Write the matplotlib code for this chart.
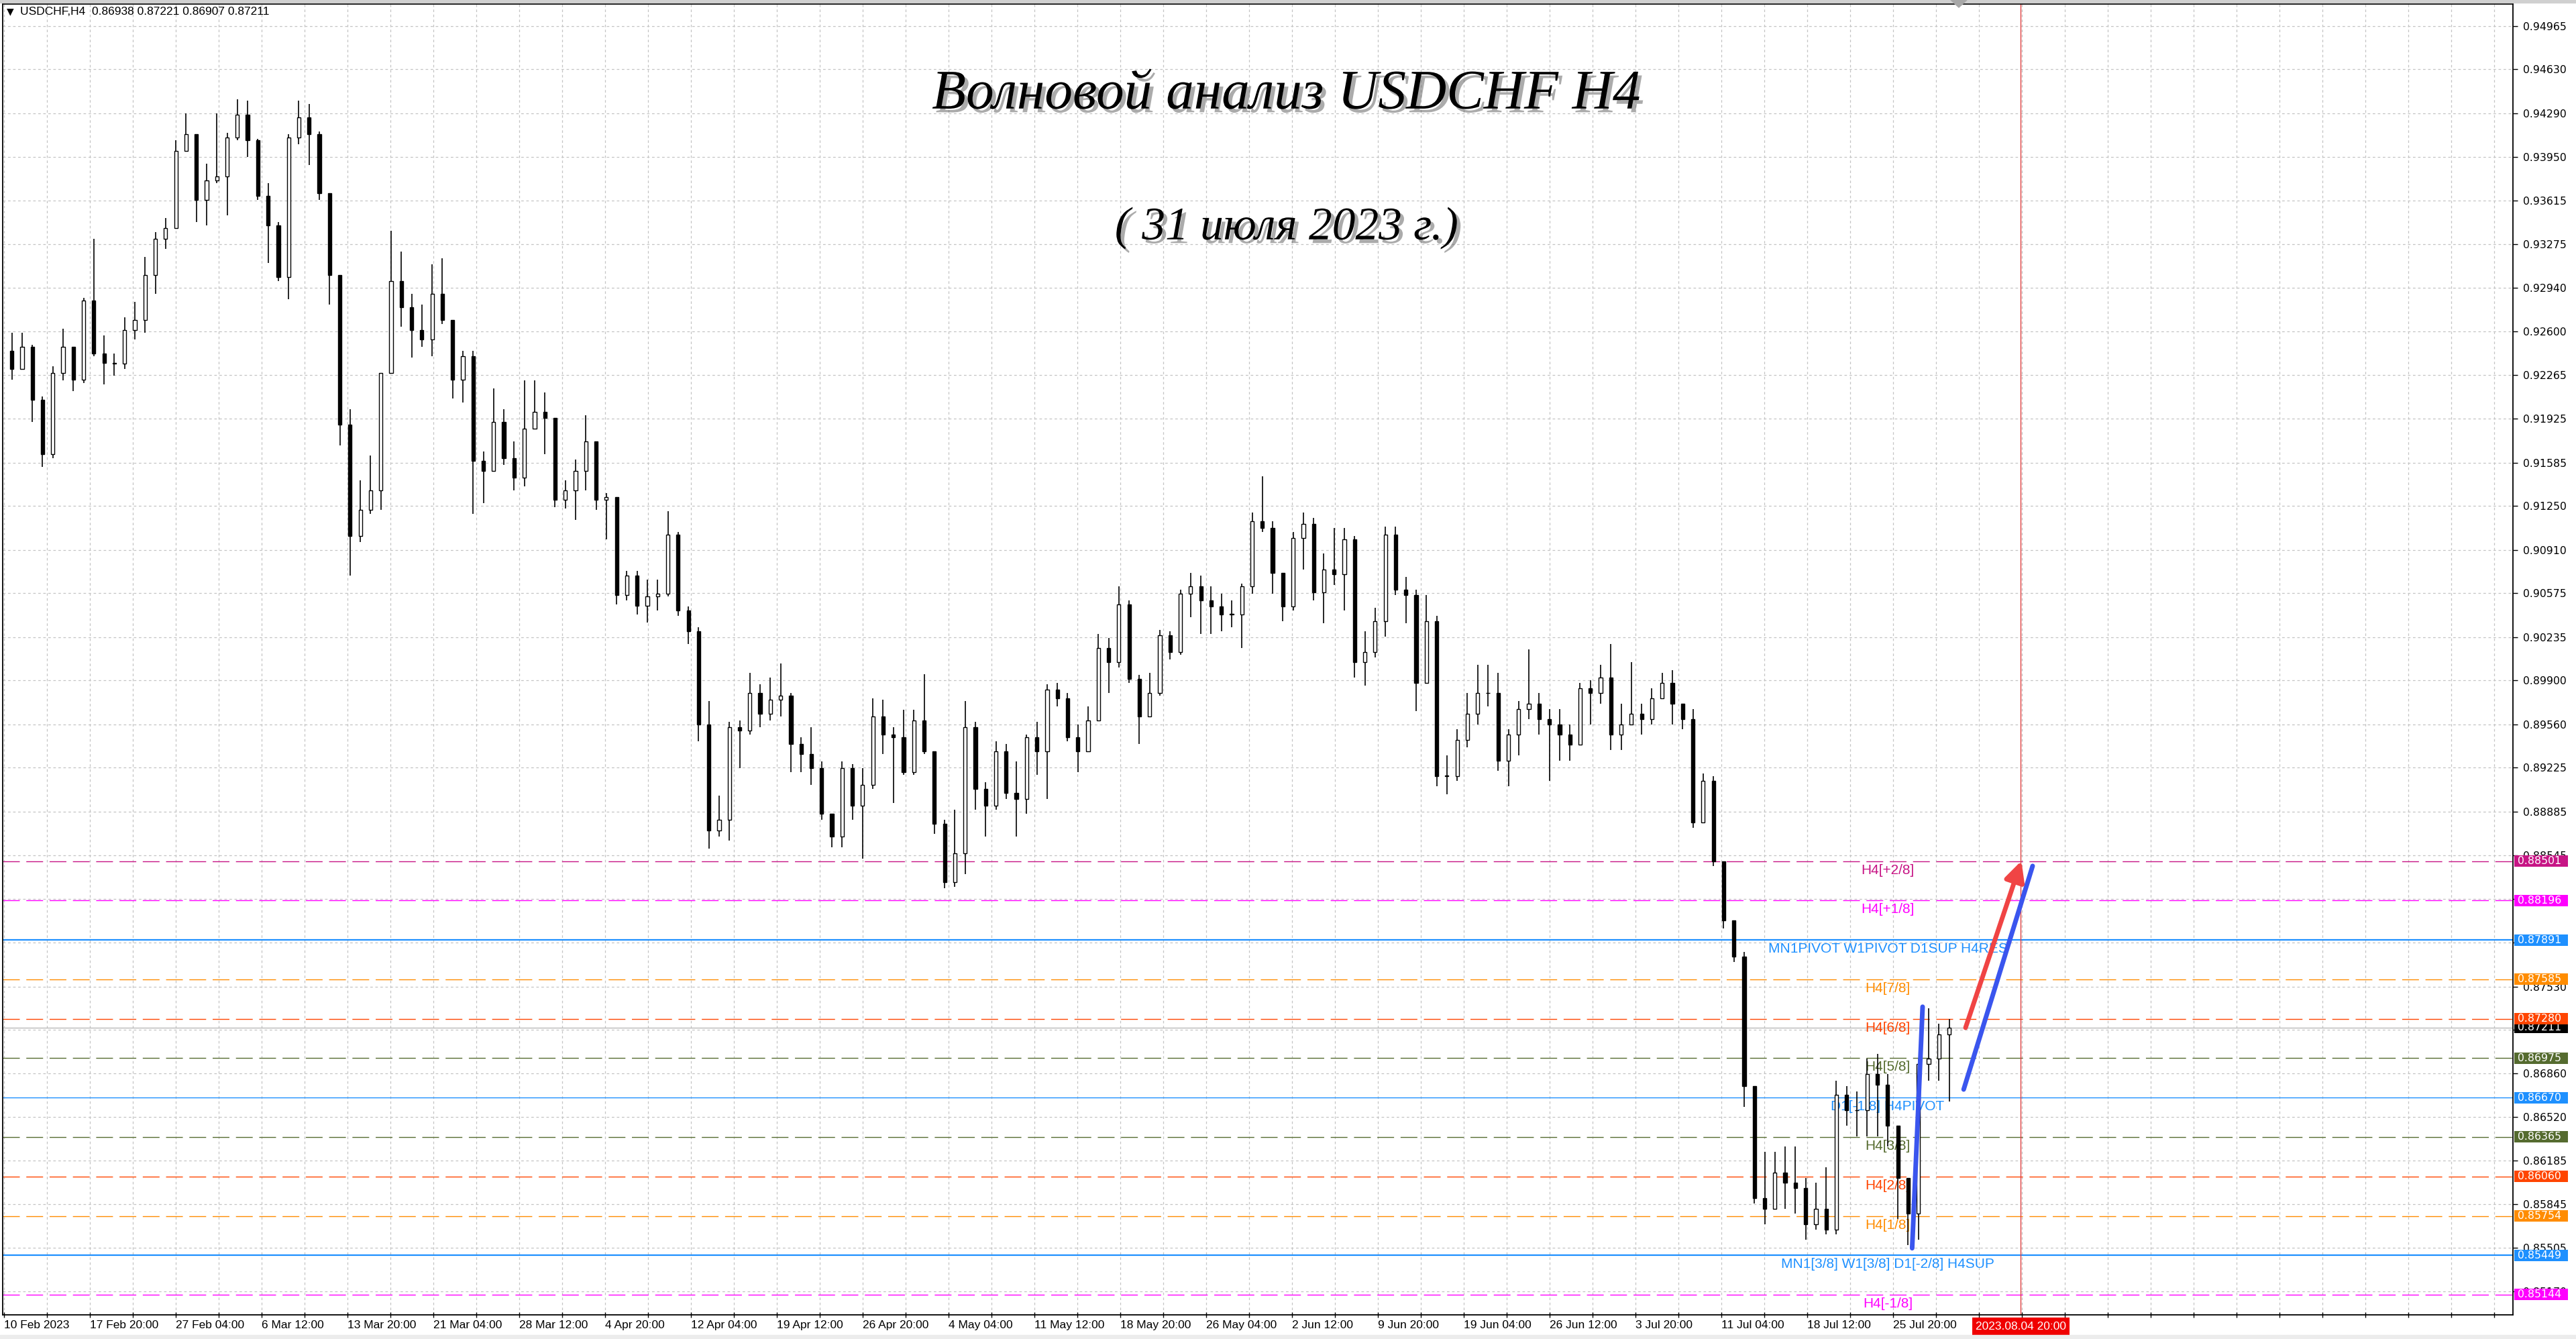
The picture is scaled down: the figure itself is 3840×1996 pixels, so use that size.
import matplotlib
matplotlib.use('Agg')
import matplotlib.pyplot as plt
import matplotlib.patheffects as pe
import matplotlib.transforms as mtransforms
from matplotlib.patches import Rectangle, Polygon
from matplotlib import font_manager

# USDCHF H4, candles (about 4 bars per candle)
first_open = 0.9245
highs = [
    .9259, .9259, .9250, .9210, .9233, .9262, .9248, .9286, .9332, .9257,
    .9243, .9271, .9283, .9318, .9337, .9348, .9408, .9429, .9413, .9390,
    .9429, .9414, .9440, .9439, .9409, .9375, .9345, .9413, .9439, .9436,
    .9415, .9367, .9304, .9200, .9145, .9164, .9228, .9338, .9322, .9289,
    .9281, .9312, .9317, .9269, .9245, .9245, .9167, .9216, .9200, .9175,
    .9222, .9222, .9213, .9193, .9145, .9161, .9195, .9175, .9135, .9132,
    .9075, .9075, .9068, .9068, .9121, .9105, .9047, .9031, .8974, .8901,
    .8958, .8959, .8996, .8987, .8992, .9003, .8980, .8946, .8954, .8927,
    .8887, .8927, .8925, .8922, .8976, .8975, .8954, .8967, .8967, .8995,
    .8935, .8882, .8890, .8974, .8958, .8911, .8943, .8941, .8927, .8948,
    .8958, .8987, .8988, .8980, .8956, .8970, .9026, .9023, .9063, .9052,
    .8994, .8996, .9029, .9028, .9060, .9073, .9071, .9063, .9057, .9052,
    .9065, .9120, .9148, .9113, .9073, .9105, .9120, .9116, .9088, .9108,
    .9108, .9102, .9028, .9046, .9109, .9109, .9070, .9060, .9056, .9040,
    .8932, .8952, .8980, .9002, .9002, .8996, .8952, .8974, .9014, .8980,
    .8968, .8968, .8956, .8988, .8990, .9002, .9018, .8972, .9004, .8972,
    .8984, .8996, .8998, .8972, .8968, .8918, .8916, .8850, .8804, .8780,
    .8676, .8625, .8625, .8629, .8629, .8605, .8601, .8613, .8680, .8676,
    .8672, .8697, .8701, .8685, .8645, .8605, .8697, .8736, .8724, .8728,
]
lows = [
    .9223, .9231, .9190, .9155, .9162, .9222, .9214, .9220, .9241, .9219,
    .9226, .9231, .9254, .9259, .9289, .9324, .9340, .9400, .9345, .9342,
    .9375, .9350, .9408, .9395, .9362, .9313, .9299, .9285, .9405, .9389,
    .9362, .9281, .9172, .9071, .9097, .9119, .9122, .9228, .9264, .9240,
    .9248, .9241, .9266, .9208, .9205, .9119, .9127, .9152, .9157, .9137,
    .9140, .9185, .9165, .9124, .9123, .9114, .9137, .9122, .9099, .9049,
    .9052, .9041, .9035, .9044, .9055, .9040, .9018, .8943, .8860, .8869,
    .8866, .8922, .8948, .8954, .8959, .8962, .8919, .8919, .8909, .8882,
    .8861, .8861, .8882, .8852, .8906, .8933, .8895, .8917, .8917, .8933,
    .8871, .8829, .8830, .8840, .8890, .8869, .8890, .8898, .8869, .8887,
    .8917, .8898, .8970, .8943, .8919, .8935, .8959, .8980, .9000, .8988,
    .8941, .8962, .8978, .9006, .9010, .9039, .9026, .9026, .9028, .9031,
    .9015, .9057, .9105, .9057, .9036, .9044, .9076, .9052, .9034, .9064,
    .9044, .8992, .8986, .9008, .9024, .9056, .9034, .8966, .8988, .8908,
    .8902, .8912, .8938, .8956, .8970, .8920, .8908, .8932, .8960, .8948,
    .8912, .8928, .8928, .8940, .8956, .8972, .8936, .8936, .8956, .8948,
    .8956, .8976, .8956, .8952, .8876, .8880, .8846, .8798, .8772, .8660,
    .8585, .8569, .8581, .8581, .8577, .8557, .8565, .8561, .8561, .8645,
    .8637, .8637, .8637, .8629, .8573, .8553, .8557, .8680, .8680, .8664,
]
closes = [
    .9231, .9248, .9207, .9165, .9228, .9248, .9223, .9284, .9243, .9236,
    .9235, .9261, .9269, .9304, .9332, .9340, .9400, .9413, .9362, .9377,
    .9380, .9410, .9428, .9408, .9365, .9342, .9302, .9410, .9426, .9413,
    .9367, .9304, .9188, .9102, .9122, .9137, .9228, .9299, .9279, .9261,
    .9254, .9289, .9269, .9223, .9241, .9160, .9152, .9190, .9162, .9147,
    .9185, .9198, .9193, .9130, .9137, .9152, .9175, .9130, .9132, .9056,
    .9071, .9048, .9055, .9057, .9103, .9044, .9028, .8956, .8874, .8882,
    .8954, .8951, .8980, .8964, .8975, .8978, .8941, .8933, .8922, .8887,
    .8869, .8922, .8893, .8909, .8962, .8948, .8946, .8919, .8959, .8935,
    .8879, .8834, .8856, .8954, .8906, .8893, .8935, .8903, .8898, .8946,
    .8935, .8983, .8976, .8946, .8935, .8959, .9015, .9004, .9049, .8991,
    .8962, .8980, .9025, .9012, .9057, .9063, .9052, .9047, .9041, .9041,
    .9063, .9113, .9108, .9073, .9047, .9100, .9111, .9058, .9076, .9072,
    .9099, .9004, .9012, .9036, .9103, .9060, .9056, .8988, .9036, .8916,
    .8916, .8944, .8964, .8980, .8980, .8928, .8948, .8968, .8972, .8960,
    .8956, .8948, .8940, .8984, .8980, .8992, .8948, .8956, .8964, .8960,
    .8976, .8988, .8972, .8960, .8880, .8912, .8850, .8804, .8776, .8676,
    .8589, .8581, .8609, .8601, .8597, .8569, .8581, .8565, .8669, .8657,
    .8657, .8685, .8677, .8645, .8605, .8577, .8693, .8697, .8716, .87211,
]

date_labels = ['10 Feb 2023', '17 Feb 20:00', '27 Feb 04:00', '6 Mar 12:00', '13 Mar 20:00',
               '21 Mar 04:00', '28 Mar 12:00', '4 Apr 20:00', '12 Apr 04:00', '19 Apr 12:00',
               '26 Apr 20:00', '4 May 04:00', '11 May 12:00', '18 May 20:00', '26 May 04:00',
               '2 Jun 12:00', '9 Jun 20:00', '19 Jun 04:00', '26 Jun 12:00', '3 Jul 20:00',
               '11 Jul 04:00', '18 Jul 12:00', '25 Jul 20:00']
price_ticks = [0.94965, 0.94630, 0.94290, 0.93950, 0.93615, 0.93275, 0.92940, 0.92600,
               0.92265, 0.91925, 0.91585, 0.91250, 0.90910, 0.90575, 0.90235, 0.89900,
               0.89560, 0.89225, 0.88885, 0.88545, 0.88210, 0.87870, 0.87530, 0.87195,
               0.86860, 0.86520, 0.86185, 0.85845, 0.85505, 0.85170]
# tick labels that sit completely under a coloured price box
hidden_ticks = [0.87870, 0.87195]

level_prices = [0.88501, 0.88196, 0.87891, 0.87585, 0.87280, 0.86975,
                0.86670, 0.86365, 0.86060, 0.85754, 0.85449, 0.85144]
level_names = ['H4[+2/8]', 'H4[+1/8]', 'MN1PIVOT W1PIVOT D1SUP H4RES', 'H4[7/8]', 'H4[6/8]',
               'H4[5/8]', 'D1[-1/8] H4PIVOT', 'H4[3/8]', 'H4[2/8]', 'H4[1/8]',
               'MN1[3/8] W1[3/8] D1[-2/8] H4SUP', 'H4[-1/8]']
level_colors = ['#C71585', '#FF00FF', '#1E90FF', '#FF8C00', '#FF4500', '#556B2F',
                '#1E90FF', '#556B2F', '#FF4500', '#FF8C00', '#1E90FF', '#FF00FF']
level_solid = [False, False, True, False, False, False, True, False, False, False, True, False]

last_price = 0.87211
future_bar = 751.6            # 2023.08.04 20:00
# hand drawn wave marks (bar index, price)
blue_wave1 = ([711.1, 715.0], [0.85504, 0.87373])
blue_wave2 = ([730.3, 756.0], [0.86733, 0.88463])
red_arrow = ([731.0, 751.8], [0.87211, 0.88502])

names = {f.name for f in font_manager.fontManager.ttflist}
narrow = 'Liberation Sans Narrow' if 'Liberation Sans Narrow' in names else 'Liberation Sans'
small = 15 if narrow == 'Liberation Sans Narrow' else 12.5

W, H = 3840, 1996
fig = plt.figure(figsize=(W / 100, H / 100), dpi=100)
fig.patch.set_facecolor('white')
fig.patches.append(Rectangle((0, 1 - 4 / H), 1, 4 / H, transform=fig.transFigure,
                             color='#d0d0d0', zorder=0))
fig.patches.append(Rectangle((0, 0), 1, 6 / H, transform=fig.transFigure,
                             color='#ececec', zorder=0))
# chart shift marker on the top edge
fig.patches.append(Polygon([(2908 / W, 1), (2932 / W, 1), (2920 / W, 1 - 11 / H)],
                           closed=True, transform=fig.transFigure, color='#a8a8a8', zorder=5))

ax = fig.add_axes([4 / W, 1 - 1960 / H, 3742 / W, 1954 / H])
ax.set_xlim(-0.5, 935)
ax.set_ylim(0.84988, 0.95136)
for s in ax.spines.values():
    s.set_color('black')
    s.set_linewidth(1.3)

# grid + axes
ax.yaxis.tick_right()
ax.set_yticks(price_ticks)
ax.set_yticklabels(['' if p in hidden_ticks else '%.5f' % p for p in price_ticks])
ax.tick_params(axis='y', length=5, width=1, pad=6, labelsize=11.3, direction='out')
xt = list(range(0, 935, 16))
ax.set_xticks(xt)
ax.set_xticklabels([date_labels[i // 32] if i % 32 == 0 and i // 32 < len(date_labels) else ''
                    for i in xt], ha='left')
ax.tick_params(axis='x', length=6, width=1, pad=3, labelsize=small, direction='inout')
for lbl in ax.get_xticklabels():
    lbl.set_fontfamily(narrow)
ax.grid(True, color='#c4c4c4', linestyle=(0, (3, 3)), linewidth=0.9)
ax.set_axisbelow(True)

# candles
n = len(closes)
opens = [first_open] + closes[:-1]
xs = [2.91 + 3.82 * k for k in range(n)]
ax.vlines(xs, lows, highs, color='black', linewidth=1.2, zorder=3)
up = [i for i in range(n) if closes[i] >= opens[i]]
dn = [i for i in range(n) if closes[i] < opens[i]]
for idx, fc in ((up, 'white'), (dn, 'black')):
    ax.bar([xs[i] for i in idx],
           [max(abs(closes[i] - opens[i]), 0.00004) for i in idx],
           bottom=[min(opens[i], closes[i]) for i in idx],
           width=1.3, color=fc, edgecolor='black', linewidth=1.0, zorder=4)

# levels
lab_tr = mtransforms.offset_copy(ax.transData, fig=fig, x=0, y=-4, units='dots')
blend = mtransforms.blended_transform_factory(fig.transFigure, ax.transData)
box_h = 17 / 19255
for p, name, col, solid in zip(level_prices, level_names, level_colors, level_solid):
    if solid:
        lw = 1.0 if name.startswith('D1') else 1.6
        ax.axhline(p, color=col, linewidth=lw, zorder=2)
    else:
        ax.axhline(p, color=col, linewidth=1.0, linestyle=(0, (18, 7)), zorder=2)
    ax.text(702, p, name, transform=lab_tr, ha='center', va='top', color=col,
            fontsize=15, family='Liberation Sans', zorder=2.5)

ax.axhline(last_price, color='#b8b8b8', linewidth=1.0, zorder=2)
ax.axvline(future_bar, color='#e04040', linewidth=1.0, zorder=2)

# right-hand price boxes
box_list = [(last_price, 'black', 6)] + [(p, c, 7) for p, c in zip(level_prices, level_colors)]
for p, col, z in box_list:
    ax.add_patch(Rectangle((3748 / W, p - box_h / 2), 80 / W, box_h, transform=blend,
                           facecolor=col, edgecolor='none', clip_on=False, zorder=z))
    ax.text(3753 / W, p, '%.5f' % p, transform=blend, color='white', fontsize=11.3,
            va='center', ha='left', clip_on=False, zorder=z + 0.5)

# future time box
bx = mtransforms.blended_transform_factory(ax.transData, fig.transFigure)
ax.text(future_bar, 1 - 1977 / H, '2023.08.04 20:00', transform=bx, ha='center', va='center',
        color='white', fontsize=small, family=narrow, clip_on=False, zorder=8,
        bbox=dict(boxstyle='square,pad=0.3', facecolor='#f00000', edgecolor='none'))

# wave marks
ax.plot(*blue_wave1, color='#3a55ee', linewidth=5, solid_capstyle='round', zorder=6)
ax.plot(*blue_wave2, color='#3a55ee', linewidth=5, solid_capstyle='round', zorder=6)
ax.annotate('', xy=(red_arrow[0][1], red_arrow[1][1]), xytext=(red_arrow[0][0], red_arrow[1][0]),
            arrowprops=dict(arrowstyle='-|>', color='#f04444', lw=5, mutation_scale=45,
                            shrinkA=0, shrinkB=0), zorder=6)

# header and titles
fig.text(10 / W, 1 - 17 / H, '\u25bc', fontsize=10, family='DejaVu Sans', va='center')
fig.text(30 / W, 1 - 17 / H, 'USDCHF,H4  0.86938 0.87221 0.86907 0.87211', fontsize=small,
         family=narrow, va='center')
shadow = [pe.SimplePatchShadow(offset=(4, -4), shadow_rgbFace='0.35', alpha=0.5), pe.Normal()]
fig.text(1918 / W, 1 - 142 / H, 'Волновой анализ USDCHF H4', fontsize=60,
         family='Liberation Serif', style='italic', ha='center', va='center', path_effects=shadow)
fig.text(1918 / W, 1 - 340 / H, '( 31 июля 2023 г.)', fontsize=50,
         family='Liberation Serif', style='italic', ha='center', va='center', path_effects=shadow)

fig.savefig('out.png', dpi=100)
